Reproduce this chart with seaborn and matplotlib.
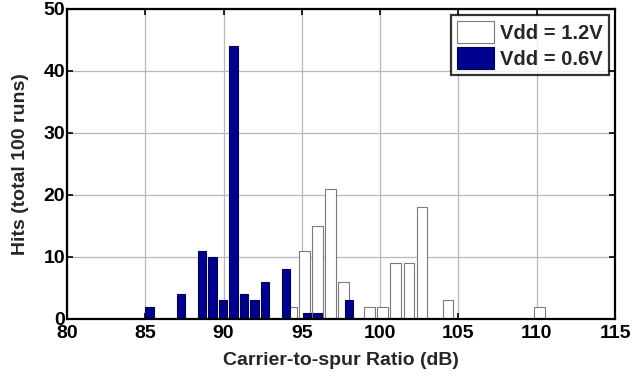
import numpy as np
import pandas as pd
import matplotlib
matplotlib.use("Agg")
import matplotlib.pyplot as plt
import seaborn as sns

# Histogram of carrier-to-spur ratio over 100 Monte Carlo runs, 20 bins per supply
bins_12v = (93.91, 110.58)          # bin range (dB), Vdd = 1.2 V
hits_12v = [2, 11, 15, 21, 6, 0, 2, 2, 9, 9, 18, 0, 3, 0, 0, 0, 0, 0, 0, 2]
bins_06v = (84.925, 98.335)         # bin range (dB), Vdd = 0.6 V
hits_06v = [2, 0, 0, 4, 0, 11, 10, 3, 44, 4, 3, 6, 0, 8, 0, 1, 1, 0, 0, 3]
labels = ["Vdd = 1.2V", "Vdd = 0.6V"]
xticks = [80, 85, 90, 95, 100, 105, 110, 115]
yticks = [0, 10, 20, 30, 40, 50]


def bin_centers(rng, n):
    edges = np.linspace(rng[0], rng[1], n + 1)
    return (edges[:-1] + edges[1:]) / 2


df = pd.concat([
    pd.DataFrame({"ratio": bin_centers(bins_12v, len(hits_12v)), "hits": hits_12v, "supply": labels[0]}),
    pd.DataFrame({"ratio": bin_centers(bins_06v, len(hits_06v)), "hits": hits_06v, "supply": labels[1]}),
])

sns.set_theme(style="white")
plt.rcParams["font.family"] = ["Liberation Sans", "DejaVu Sans"]
plt.rcParams["font.weight"] = "bold"

fig = plt.figure(figsize=(6.33, 3.86), dpi=100)
ax = fig.add_axes([0.1058, 0.1736, 0.8658, 0.8031])

styles = {
    labels[0]: dict(facecolor="white", edgecolor="#7a7a7a", rng=bins_12v, n=len(hits_12v)),
    labels[1]: dict(facecolor="#00008F", edgecolor="#00004a", rng=bins_06v, n=len(hits_06v)),
}
for lab in labels:
    st = styles[lab]
    sub = df[df["supply"] == lab]
    sns.histplot(data=sub, x="ratio", weights="hits", bins=st["n"], binrange=st["rng"],
                 shrink=0.8, element="bars", fill=True, alpha=1,
                 facecolor=st["facecolor"], edgecolor=st["edgecolor"], linewidth=0.8,
                 label=lab, ax=ax)

ax.set_xlim(80, 115)
ax.set_ylim(0, 50)
ax.set_xticks(xticks)
ax.set_yticks(yticks)
ax.set_xticklabels([str(t) for t in xticks], fontsize=14, fontweight="bold")
ax.set_yticklabels([str(t) for t in yticks], fontsize=14, fontweight="bold")
ax.grid(True, color="#b8b8b8", linewidth=0.9)
ax.set_axisbelow(True)
ax.tick_params(direction="in", length=4, width=1.2, top=True, right=True,
               bottom=True, left=True, colors="black")
ax.tick_params(axis="x", pad=4.5)
ax.tick_params(axis="y", pad=1.5)
for sp in ax.spines.values():
    sp.set_color("black")
    sp.set_linewidth(1.6)

ax.set_xlabel("Carrier-to-spur Ratio (dB)", fontsize=14, fontweight="bold", labelpad=7)
ax.set_ylabel("Hits (total 100 runs)", fontsize=14, fontweight="bold", labelpad=10)

leg = ax.legend(loc="upper right", frameon=True, fancybox=False,
                borderpad=0.3, handlelength=1.85, handleheight=1.3, handletextpad=0.3,
                labelspacing=0.2, borderaxespad=0.3, prop={"weight": "bold", "size": 14.5})
leg.get_frame().set_edgecolor("black")
leg.get_frame().set_linewidth(1.6)

fig.savefig("out.png", dpi=100)
